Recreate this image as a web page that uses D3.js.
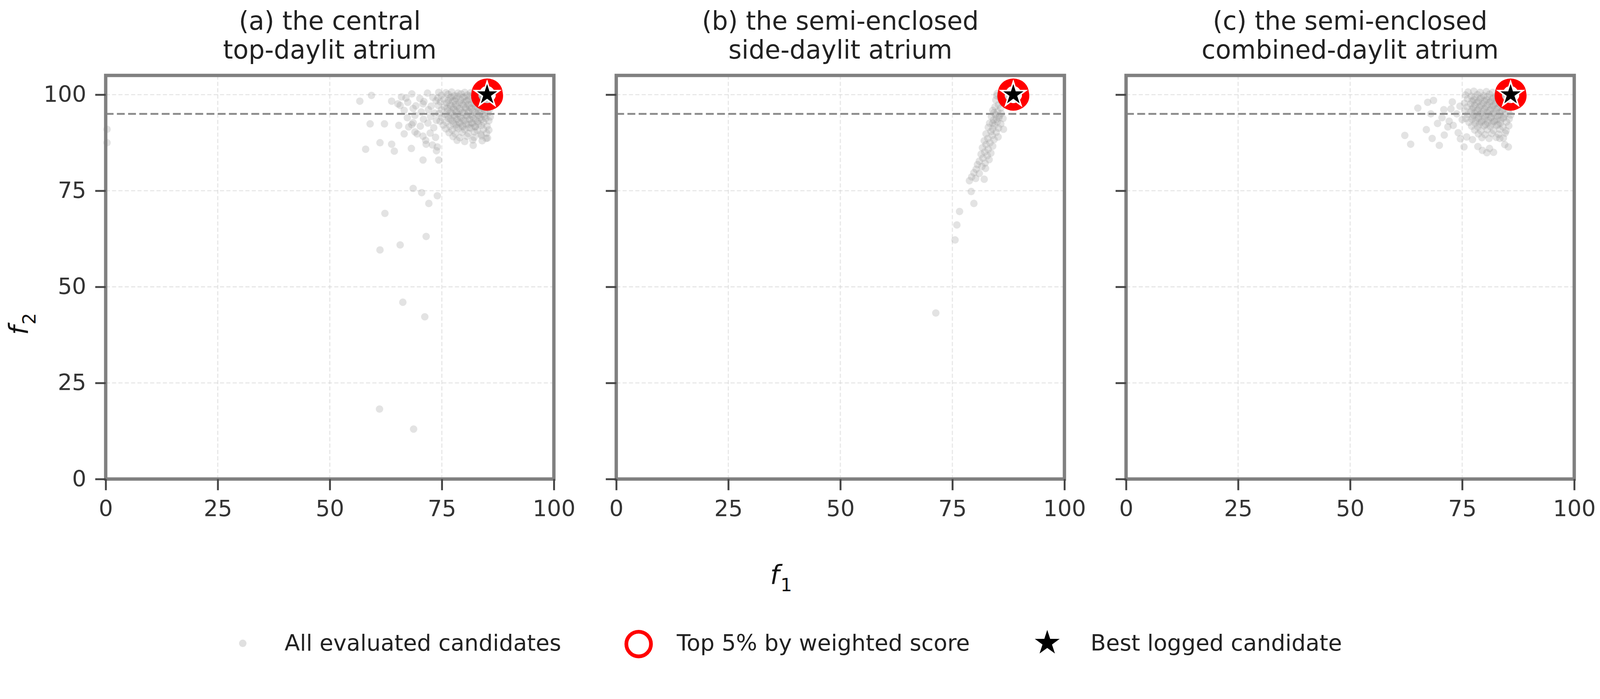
<!DOCTYPE html>
<html><head><meta charset="utf-8">
<script src="https://cdn.jsdelivr.net/npm/d3@7"></script>
<style>html,body{margin:0;padding:0;background:#fff;width:100%;height:100%;overflow:hidden;} svg{display:block;width:100vw;height:100vh;}</style>
</head><body>
<svg id="chart" viewBox="0 0 4284 1790" preserveAspectRatio="xMidYMin meet"></svg>
<script>
// ---------------- data ----------------
const panelTitles = [
  ["(a) the central", "top-daylit atrium"],
  ["(b) the semi-enclosed", "side-daylit atrium"],
  ["(c) the semi-enclosed", "combined-daylit atrium"]
];
const xTicks = [0, 25, 50, 75, 100];
const yTicks = [0, 25, 50, 75, 100];
const xDomain = [0, 100];
const yDomain = [0, 105];
const f2Threshold = 95;
const legendLabels = ["All evaluated candidates", "Top 5% by weighted score", "Best logged candidate"];

// all evaluated candidates [f1, f2]
const pointsA = [
[0.3,87.5],[0.3,91.0],
[61.1,18.2],[68.7,13.0],[66.3,46.0],[71.2,42.2],
[61.2,59.6],[65.7,60.9],[71.5,63.1],[62.3,69.1],
[72.1,71.7],[74.0,73.7],[70.5,74.5],[68.6,75.6],
[56.7,98.3],[59.3,99.8],[63.8,98.3],[59.0,92.4],[58.0,85.8],[61.2,87.5],[63.8,87.1],[64.4,85.3],[68.2,86.0],[70.8,83.0],[74.3,83.0],[74.0,86.4],[82.0,86.8],[84.9,88.6],[67.6,91.6],[62.2,92.4],[65.4,92.0],[66.6,89.8],[69.5,89.8],[71.5,87.1],[68.6,92.7],[65.7,97.2],[67.0,99.1],[70.8,97.6],
[66.0,99.4],[68.3,100.2],[70.1,99.0],[71.8,100.4],[73.0,99.3],
[65.2,97.6],[67.4,98.0],[69.2,97.1],[71.0,98.2],[72.6,97.0],[73.7,98.4],
[66.6,95.9],[68.6,96.4],[70.4,95.5],[72.0,96.1],[73.4,95.2],
[67.3,94.0],[69.0,94.6],[70.9,93.6],[72.5,94.3],[73.8,93.3],
[68.3,92.2],[70.2,91.8],[71.9,92.6],[73.2,91.4],
[69.0,90.3],[70.8,89.2],[72.4,90.0],[73.6,88.9],
[71.4,88.1],[72.9,86.9],[73.8,85.4],
[74.3,100.6],[75.9,100.5],[77.2,100.7],[78.6,100.4],[80.1,100.6],[81.4,100.5],[82.7,100.7],
[74.9,99.8],[76.4,100.1],[77.8,99.7],[79.3,100.2],[80.7,99.9],[82.1,100.3],[83.4,99.6],
[74.1,99.1],[75.5,98.8],[76.9,99.2],[78.2,98.9],[79.7,99.3],[81.0,98.7],[82.4,99.1],[83.9,98.8],[85.0,99.2],
[74.7,98.1],[76.1,97.8],[77.5,98.3],[78.9,97.9],[80.3,98.2],[81.7,97.7],[83.0,98.1],[84.4,97.9],[85.5,98.3],
[74.2,97.2],[75.6,96.8],[77.0,97.1],[78.4,96.9],[79.8,97.3],[81.2,96.7],[82.5,97.0],[83.8,96.8],[85.1,97.2],
[74.9,96.1],[76.3,95.8],[77.7,96.2],[79.1,95.9],[80.5,96.3],[81.9,95.7],[83.2,96.0],[84.6,95.8],[85.7,96.2],
[74.4,95.1],[75.8,94.8],[77.2,95.2],[78.6,94.9],[80.0,95.3],[81.4,94.7],[82.8,95.0],[84.1,94.8],[85.3,95.2],
[75.0,94.1],[76.5,93.8],[77.9,94.2],[79.3,93.9],[80.7,94.3],[82.1,93.7],[83.5,94.0],[84.8,93.8],[85.8,94.2],
[74.6,93.1],[76.0,92.8],[77.4,93.2],[78.8,92.9],[80.2,93.3],[81.6,92.7],[83.0,93.0],[84.3,92.8],[85.5,93.2],
[75.3,92.1],[76.8,91.8],[78.2,92.2],[79.6,91.9],[81.0,92.3],[82.4,91.7],[83.8,92.0],[85.1,91.8],
[75.9,91.1],[77.3,90.8],[78.7,91.2],[80.1,90.9],[81.5,91.3],[82.9,90.7],[84.3,91.0],[85.5,90.8],
[76.6,90.1],[78.0,89.8],[79.5,90.2],[80.9,89.9],[82.3,90.3],[83.7,89.7],[85.0,90.0],
[77.5,89.1],[79.0,88.8],[80.6,89.2],[82.2,88.9],[83.8,89.3],[85.2,88.7],
[78.4,88.1],[80.1,87.8],[81.9,88.2],[84.0,88.0],
[77.1,99.4],[78.5,99.6],[80.0,99.4],[81.3,99.6],[82.8,99.4],[84.1,99.6],
[76.4,98.5],[77.9,98.4],[79.2,98.6],[80.6,98.4],[82.0,98.6],[83.5,98.4],
[76.8,97.5],[78.1,97.4],[79.5,97.6],[80.9,97.4],[82.2,97.6],[83.6,97.4],
[76.2,96.5],[77.6,96.6],[79.0,96.4],[80.3,96.6],[81.6,96.4],[83.0,96.6],[84.3,96.4],
[76.9,95.5],[78.2,95.6],[79.6,95.4],[81.0,95.6],[82.4,95.4],[83.7,95.6],
[76.4,94.5],[77.8,94.6],[79.1,94.4],[80.5,94.6],[81.8,94.4],[83.2,94.6],[84.5,94.4],
[77.0,93.5],[78.4,93.6],[79.8,93.4],[81.2,93.6],[82.6,93.4],[83.9,93.6],
[77.6,92.5],[79.0,92.6],[80.4,92.4],[81.8,92.6],[83.2,92.4],
[78.3,91.5],[79.7,91.6],[81.1,91.4],[82.5,91.6]
];
const pointsB = [
[85.0,100.3],[85.6,99.2],[84.7,98.6],[86.0,98.0],[85.3,97.4],[84.5,96.8],[85.8,96.5],[86.8,97.5],[87.3,98.8],[86.4,99.6],[84.9,99.7],
[84.0,95.9],[85.1,95.6],[85.9,95.1],[84.6,94.8],[83.7,94.3],[85.4,94.0],[86.3,93.8],[84.2,93.4],[85.0,92.9],[83.3,92.6],[85.8,92.4],[84.4,92.0],
[84.3,95.3],[85.5,94.5],[84.8,93.6],[84.0,92.6],
[83.0,91.5],[84.0,91.1],[85.3,91.3],[86.4,91.0],[83.6,90.4],[84.8,90.2],[82.5,89.8],[83.9,89.4],[85.2,89.0],[82.9,88.6],[84.3,88.3],[82.1,88.0],
[83.4,87.5],[82.5,87.0],[84.0,86.6],[81.7,86.2],[83.0,85.8],[82.2,85.1],[83.6,84.8],[81.4,84.5],[82.8,84.1],
[81.8,83.5],[83.2,83.1],[81.0,82.7],[82.3,82.2],[80.6,81.8],[81.6,81.3],[82.4,80.8],[80.3,80.6],
[79.8,79.7],[81.0,79.5],[79.3,78.6],[80.2,78.2],[78.8,77.6],[82.1,78.0],
[79.2,74.8],[79.8,71.7],[76.6,69.6],[76.0,66.1],[75.6,62.2],[71.3,43.2]
];
const pointsC = [
[65.1,96.5],[67.3,98.0],[68.6,98.5],[72.8,98.1],[62.2,89.4],[63.5,87.1],[67.0,90.9],[68.3,88.6],[69.9,86.8],[71.8,91.6],[72.1,93.1],[74.1,90.1],[75.4,86.4],[77.3,88.3],[80.5,84.9],[81.1,86.0],[85.3,86.4],[83.4,88.6],[70.9,96.1],[68.0,95.0],[73.8,95.0],
[70.5,94.0],[72.5,96.3],[74.5,97.0],[73.0,92.0],[75.0,93.5],[74.6,88.5],[69.5,92.5],[71.0,89.5],[76.0,89.0],[78.5,86.5],[79.5,85.5],[82.0,85.0],[84.5,87.0],
[76.3,100.7],[77.6,100.9],[79.0,100.6],[80.4,100.8],[81.8,100.6],[83.1,100.8],
[75.7,99.9],[77.0,99.6],[78.4,100.0],[79.8,99.7],[81.1,100.1],[82.5,99.6],[83.8,99.9],
[76.2,98.9],[77.6,98.6],[79.0,98.9],[80.4,98.6],[81.7,98.9],[83.1,98.6],[84.5,98.9],
[75.5,97.8],[76.9,97.6],[78.3,97.9],[79.7,97.7],[81.1,98.0],[82.4,97.6],[83.8,97.9],[85.1,97.7],
[76.1,96.8],[77.5,96.6],[78.9,96.9],[80.3,96.7],[81.7,97.0],[83.0,96.6],[84.4,96.9],[85.7,96.7],
[75.6,95.8],[77.0,95.6],[78.4,95.9],[79.8,95.7],[81.2,96.0],[82.6,95.6],[83.9,95.9],[85.3,95.7],
[76.2,94.8],[77.6,94.6],[79.0,94.9],[80.4,94.7],[81.8,95.0],[83.2,94.6],[84.6,94.9],[85.8,94.7],
[75.8,93.8],[77.2,93.6],[78.6,93.9],[80.0,93.7],[81.4,94.0],[82.8,93.6],[84.2,93.9],[85.5,93.7],
[76.5,92.8],[77.9,92.6],[79.3,92.9],[80.7,92.7],[82.1,93.0],[83.5,92.6],[84.9,92.9],
[77.1,91.8],[78.5,91.6],[79.9,91.9],[81.3,91.7],[82.7,92.0],[84.1,91.6],[85.4,91.9],
[77.8,90.8],[79.2,90.6],[80.6,90.9],[82.0,90.7],[83.4,91.0],[84.8,90.6],
[78.6,89.8],[80.1,89.6],[81.6,89.9],[83.1,89.7],[84.6,90.0],
[79.4,88.8],[81.0,88.6],[82.6,88.9],[84.2,88.7],
[77.8,99.3],[79.2,99.2],[80.6,99.4],[82.0,99.2],[83.3,99.4],
[77.2,98.3],[78.6,98.2],[80.0,98.4],[81.4,98.2],[82.8,98.4],[84.1,98.2],
[77.8,97.3],[79.2,97.2],[80.6,97.4],[82.0,97.2],[83.4,97.4],
[77.2,96.3],[78.6,96.2],[80.0,96.4],[81.4,96.2],[82.8,96.4],[84.2,96.2],
[77.8,95.3],[79.2,95.2],[80.6,95.4],[82.0,95.2],[83.4,95.4],
[77.3,94.3],[78.7,94.2],[80.1,94.4],[81.5,94.2],[82.9,94.4],[84.3,94.2],
[78.0,93.3],[79.4,93.2],[80.8,93.4],[82.2,93.2],[83.6,93.4],
[78.8,92.3],[80.2,92.2],[81.6,92.4],[83.0,92.2]
];
// top 5% by weighted score [f1, f2]
const topA = [[85.1,100.0],[84.7,99.7],[85.5,99.7],[84.8,100.4],[85.4,100.4],[85.1,99.5],[85.1,100.5]];
const topB = [[88.6,100.0],[88.2,99.7],[89.0,99.7],[88.3,100.4],[88.9,100.4],[88.6,99.5],[88.6,100.5]];
const topC = [[85.8,100.0],[85.4,99.7],[86.2,99.7],[85.5,100.4],[86.1,100.4],[85.8,99.5],[85.8,100.5]];
// best logged candidate [f1, f2]
const bestA = [85.1, 100.0];
const bestB = [88.6, 100.0];
const bestC = [85.8, 100.0];

// ---------------- layout ----------------
const panels = [
  {title: panelTitles[0], pts: pointsA, top: topA, best: bestA, x0: 283},
  {title: panelTitles[1], pts: pointsB, top: topB, best: bestB, x0: 1650},
  {title: panelTitles[2], pts: pointsC, top: topC, best: bestC, x0: 3015}
];
const PW = 1200, PT = 202, PB = 1283;
const FONT = "DejaVu Sans, Liberation Sans, sans-serif";

function starPath(R) {
  const r = R * 0.381966, p = [];
  for (let i = 0; i < 10; i++) {
    const a = -Math.PI / 2 + i * Math.PI / 5, rr = i % 2 ? r : R;
    p.push([rr * Math.cos(a), rr * Math.sin(a)]);
  }
  return "M" + p.map(q => q[0].toFixed(2) + "," + q[1].toFixed(2)).join("L") + "Z";
}

const svg = d3.select("#chart");
svg.append("rect").attr("width", 4284).attr("height", 1790).attr("fill", "#fff");

const y = d3.scaleLinear().domain(yDomain).range([PB, PT]);

panels.forEach((p, i) => {
  const x = d3.scaleLinear().domain(xDomain).range([p.x0, p.x0 + PW]);
  const g = svg.append("g");

  // grid
  g.selectAll(".gx").data(xTicks).join("line")
    .attr("x1", d => x(d)).attr("x2", d => x(d)).attr("y1", PT).attr("y2", PB)
    .attr("stroke", "#d0d0d0").attr("stroke-width", 3).attr("stroke-dasharray", "11,6").attr("opacity", 0.5);
  g.selectAll(".gy").data(yTicks).join("line")
    .attr("x1", p.x0).attr("x2", p.x0 + PW).attr("y1", d => y(d)).attr("y2", d => y(d))
    .attr("stroke", "#d0d0d0").attr("stroke-width", 3).attr("stroke-dasharray", "11,6").attr("opacity", 0.5);

  // threshold line
  g.append("line").attr("x1", p.x0).attr("x2", p.x0 + PW)
    .attr("y1", y(f2Threshold)).attr("y2", y(f2Threshold))
    .attr("stroke", "#8a8a8a").attr("stroke-width", 5).attr("stroke-dasharray", "21,9");

  // all candidates
  g.append("g").selectAll("circle").data(p.pts).join("circle")
    .attr("cx", d => x(d[0])).attr("cy", d => y(d[1])).attr("r", 10)
    .attr("fill", "#999999").attr("fill-opacity", 0.28);

  // top 5%
  g.append("g").selectAll("circle").data(p.top).join("circle")
    .attr("cx", d => x(d[0])).attr("cy", d => y(d[1])).attr("r", 33)
    .attr("fill", "none").attr("stroke", "#ff0000").attr("stroke-width", 10);

  // best
  g.append("path").attr("d", starPath(35))
    .attr("transform", `translate(${x(p.best[0])},${y(p.best[1])})`)
    .attr("fill", "#000").attr("stroke", "#fff").attr("stroke-width", 4).attr("stroke-linejoin", "miter");

  // spines
  g.append("rect").attr("x", p.x0).attr("y", PT).attr("width", PW).attr("height", PB - PT)
    .attr("fill", "none").attr("stroke", "#808080").attr("stroke-width", 9);

  // axes
  const ax = g.append("g").attr("transform", `translate(0,${PB})`)
    .call(d3.axisBottom(x).tickValues(xTicks).tickSize(30).tickPadding(27));
  const ay = g.append("g").attr("transform", `translate(${p.x0},0)`)
    .call(d3.axisLeft(y).tickValues(yTicks).tickSize(28).tickPadding(24)
      .tickFormat(i === 0 ? d3.format("d") : () => ""));
  [ax, ay].forEach(a => {
    a.select(".domain").remove();
    a.selectAll(".tick line").attr("stroke", "#444").attr("stroke-width", 5);
    a.selectAll(".tick text").attr("fill", "#333").style("font-size", "60px").style("font-family", FONT);
  });

  // title
  const cx = p.x0 + PW / 2;
  const t = g.append("text").attr("text-anchor", "middle").attr("fill", "#222")
    .style("font-size", "68px").style("font-family", FONT);
  t.append("tspan").attr("x", cx).attr("y", 80).text(p.title[0]);
  t.append("tspan").attr("x", cx).attr("y", 157).text(p.title[1]);
});

// axis labels
const xl = svg.append("text").attr("x", 2062).attr("y", 1565).attr("fill", "#111").style("font-family", FONT);
xl.append("tspan").style("font-size", "70px").style("font-style", "italic").text("f");
xl.append("tspan").style("font-size", "49px").attr("dy", 18).attr("dx", 3).text("1");

const yl = svg.append("text").attr("transform", "translate(75,897) rotate(-90)").attr("fill", "#111").style("font-family", FONT);
yl.append("tspan").style("font-size", "70px").style("font-style", "italic").text("f");
yl.append("tspan").style("font-size", "49px").attr("dy", 20).attr("dx", 3).text("2");

// legend
const lg = svg.append("g");
lg.append("circle").attr("cx", 650).attr("cy", 1723).attr("r", 10).attr("fill", "#999").attr("fill-opacity", 0.3);
lg.append("circle").attr("cx", 1710).attr("cy", 1725).attr("r", 33).attr("fill", "none").attr("stroke", "#ff0000").attr("stroke-width", 10);
lg.append("path").attr("d", starPath(35)).attr("transform", "translate(2804,1722)").attr("fill", "#000");
const lx = [762, 1812, 2920];
legendLabels.forEach((s, i) => {
  lg.append("text").attr("x", lx[i]).attr("y", 1742).attr("fill", "#222")
    .style("font-size", "60px").style("font-family", FONT).text(s);
});
</script>
</body></html>
